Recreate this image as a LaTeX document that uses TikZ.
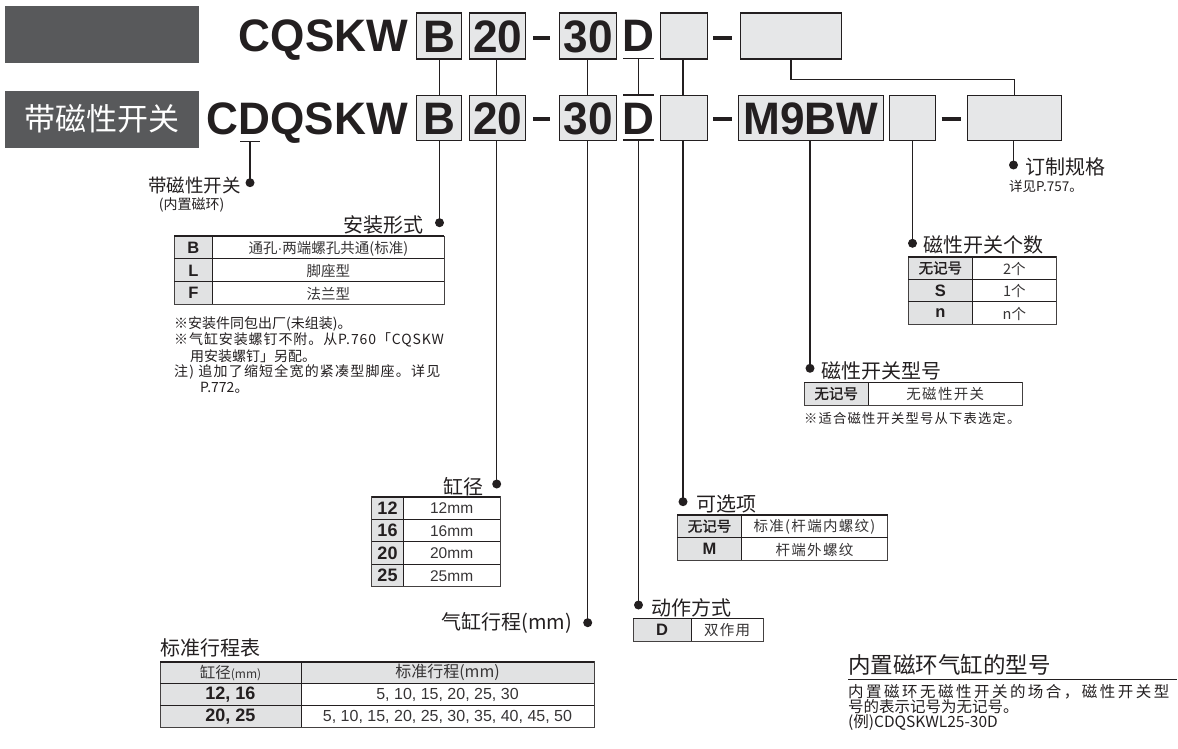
\documentclass[tikz,border=0pt]{standalone}
\usepackage{fontspec}
\setmainfont{Noto Sans CJK SC}
\newfontfamily\lat{Liberation Sans}
\newfontfamily\codef{Liberation Sans}[FakeStretch=0.97]
\newfontfamily\cjkM{Noto Sans CJK SC}[FakeBold=1.5]
\newfontfamily\cjkA{Noto Sans CJK SC}[LetterSpace=16]
\newfontfamily\cjkB{Noto Sans CJK SC}[LetterSpace=9]
\newfontfamily\cjkE{Noto Sans CJK SC}[LetterSpace=6.5]
\newfontfamily\cjkC{Noto Sans CJK SC}[LetterSpace=8.5]
\definecolor{ink}{HTML}{231F20}
\definecolor{txt}{HTML}{363435}
\definecolor{dbox}{HTML}{58595B}
\definecolor{boxg}{HTML}{E6E7E8}
\definecolor{cellg}{HTML}{E1E2E3}
\newcommand\fs[1]{\fontsize{#1}{#1}\selectfont}
\newcommand\tframe[5]{%
  \fill[cellg] (#1,#4) rectangle (#2,#5);
  \draw[tgrid] (#2,#4) -- (#2,#5);
  \draw[tout] (#1,#4) rectangle (#3,#5);
  \draw[ttop] (#1,#4) -- (#3,#4);}
\begin{document}
\begin{tikzpicture}[x=1pt,y=-1pt,
  conn/.style={draw=ink,line width=1.4pt},
  dotn/.style={circle,fill=ink,inner sep=0pt,minimum size=9pt},
  darkbox/.style={fill=dbox,inner sep=0pt,anchor=north west,minimum width=194pt,minimum height=57pt},
  cbox/.style={draw=ink,fill=boxg,line width=1.2pt,inner sep=0pt,anchor=north west,font=\codef\bfseries\fs{45.5},text=ink,text height=32.6pt,text depth=0pt},
  codet/.style={font=\codef\bfseries\fs{45.5},text=ink,inner sep=0pt},
  head/.style={font=\fs{20},text=ink,inner sep=0pt},
  note/.style={font=\fs{14},text=ink,inner sep=0pt,anchor=west},
  cell/.style={font=\fs{14.5},text=txt,inner sep=0pt},
  lcell/.style={font=\lat\fs{15.5},text=txt,inner sep=0pt},
  key/.style={font=\lat\bfseries\fs{16.5},text=ink,inner sep=0pt},
  ckey/.style={font=\cjkM\fs{14.5},text=ink,inner sep=0pt},
  tgrid/.style={draw=ink,line width=0.7pt},
  tout/.style={draw=ink!85,line width=1pt},
  ttop/.style={draw=ink,line width=1.6pt},
  hyph/.style={draw=ink,line width=3.4pt}]
\useasboundingbox (0,0) rectangle (1178,749);

% ---------- header boxes ----------
\node[darkbox] (dk1) at (4.6,6) {};
\node[darkbox] (dk2) at (4.6,90.5) {};
\node[font=\fs{31},text=white,inner sep=0pt] (dk2t) at (dk2.center) {带磁性开关};

% ---------- top row ----------
\node[codet,anchor=base east] (tC) at (408.3,52) {CQSKW};
\node[cbox,minimum width=45pt,minimum height=46pt] (tB) at (416,12.5) {B};
\node[cbox,minimum width=56pt,minimum height=46pt] (t20) at (469,12.5) {20};
\node[cbox,minimum width=57pt,minimum height=46pt] (t30) at (559,12.5) {30};
\node[codet,anchor=base] (tD) at (638.5,52) {D};
\node[cbox,minimum width=47pt,minimum height=46pt] (tE1) at (660,12.5) {};
\node[cbox,minimum width=101pt,minimum height=46pt] (tBig) at (740,12.5) {};
\draw[hyph] (533,38) -- (550,38);
\draw[hyph] (713,38) -- (732,38);
\draw[line width=1.3pt,ink] (623,58.5) -- (654,58.5);

% ---------- bottom row ----------
\node[codet,anchor=base west] (bC) at (206.7,134.3) {CDQSKW};
\node[cbox,minimum width=45pt,minimum height=45pt] (bB) at (416,95) {B};
\node[cbox,minimum width=56pt,minimum height=45pt] (b20) at (469,95) {20};
\node[cbox,minimum width=57pt,minimum height=45pt] (b30) at (559,95) {30};
\node[codet,anchor=base] (bD) at (638.5,134.3) {D};
\node[cbox,minimum width=47pt,minimum height=45pt] (bE1) at (660,95) {};
\node[cbox,minimum width=145pt,minimum height=45pt] (bM) at (738,95) {M9BW};
\node[cbox,minimum width=46pt,minimum height=45pt] (bE2) at (889,95) {};
\node[cbox,minimum width=93.5pt,minimum height=45pt] (bR) at (967,95) {};
\draw[hyph] (533,119) -- (550,119);
\draw[hyph] (713,119) -- (732,119);
\draw[hyph] (941.5,119) -- (960.6,119);
\draw[line width=1.3pt,ink] (623,95) -- (654,95);
\draw[line width=1.3pt,ink] (623,140) -- (654,140);
\draw[line width=1.3pt,ink] (240,141.5) -- (260,141.5);

% ---------- dots ----------
\coordinate (dMag) at (250,182.7);
\coordinate (dB) at (439.5,222.7);
\coordinate (d20) at (496.7,484);
\coordinate (d30) at (587.7,622.7);
\coordinate (dD) at (638.5,605);
\coordinate (dOpt) at (683,501.7);
\coordinate (dSw) at (810,368.3);
\coordinate (dN) at (912.5,243.3);
\coordinate (dCu) at (1013.5,165);
\coordinate (tDu) at (638.5,58.5);
\coordinate (bDo) at (638.5,95);
\coordinate (bDu) at (638.5,140);
\coordinate (magT) at (250,141.5);

% ---------- connectors between rows ----------
\draw[conn] (tB.south -| dB) -- (bB.north -| dB);
\draw[conn] (t20.south -| d20) -- (b20.north -| d20);
\draw[conn] (t30.south -| d30) -- (b30.north -| d30);
\draw[conn] (tDu) -- (bDo);
\draw[conn] (tE1.south -| dOpt) -- (bE1.north -| dOpt);
\draw[conn] (tBig.south) -- ++(0,19.6) -| (bR.north);

% ---------- connectors down to labels ----------
\draw[conn] (magT) -- (dMag);
\draw[conn] (bB.south -| dB) -- (dB);
\draw[conn] (b20.south -| d20) -- (d20);
\draw[conn] (b30.south -| d30) -- (d30);
\draw[conn] (bDu) -- (dD);
\draw[conn] (bE1.south -| dOpt) -- (dOpt);
\draw[conn] (bM.south -| dSw) -- (dSw);
\draw[conn] (bE2.south -| dN) -- (dN);
\draw[conn] (bR.south -| dCu) -- (dCu);

\foreach \p/\n in {dMag/nMag,dB/nB,d20/n20,d30/n30,dD/nD,dOpt/nOpt,dSw/nSw,dN/nN,dCu/nCu}
  \node[dotn] (\n) at (\p) {};

% ---------- labels ----------
\node[head,font=\fs{18.5},anchor=east] (lMag) at (241,185) {带磁性开关};
\node[cell,text=ink,font=\fs{14}] (lMag2) at (191.7,205) {(内置磁环)};
\node[head,anchor=east] (lB) at (424,225) {安装形式};
\node[head,anchor=east] (l20) at (484,486.7) {缸径};
\node[head,anchor=east] (l30) at (572,623.3) {气缸行程(mm)};
\node[head,anchor=west] (lD) at (651.7,608.3) {动作方式};
\node[head,anchor=west] (lOpt) at (696.7,504) {可选项};
\node[head,anchor=west] (lSw) at (821.7,370.7) {磁性开关型号};
\node[head,anchor=west] (lN) at (923,245) {磁性开关个数};
\node[head,anchor=west] (lCu) at (1025,166.7) {订制规格};
\node[note,font=\fs{13.5}] (lCu2) at (1009,186) {详见P.757。};

% ---------- table: mounting ----------
\tframe{174}{212.7}{444}{236}{304}
\draw[tgrid] (174,258.7) -- (444,258.7) (174,281.3) -- (444,281.3);
\node[key] (m1a) at (193.35,248) {B};
\node[cell] (m1b) at (328.35,248.5) {通孔{\lat·}两端螺孔共通(标准)};
\node[key] (m2a) at (193.35,270.5) {L};
\node[cell] (m2b) at (328.35,271) {脚座型};
\node[key] (m3a) at (193.35,293) {F};
\node[cell] (m3b) at (328.35,293.5) {法兰型};
\node[note] (n1) at (174,324) {※安装件同包出厂(未组装)。};
\node[note,font=\cjkE\fs{14}] (n2) at (174,340) {※气缸安装螺钉不附。从P.760「CQSKW};
\node[note] (n3) at (190,356) {用安装螺钉」另配。};
\node[note,font=\cjkC\fs{14}] (n4) at (174,372) {注) 追加了缩短全宽的紧凑型脚座。详见};
\node[note] (n5) at (200,388) {P.772。};

% ---------- table: switch count ----------
\tframe{908}{972.7}{1056}{256.7}{324.2}
\draw[tgrid] (908,279.2) -- (1056,279.2) (908,301.7) -- (1056,301.7);
\node[ckey] (c1a) at (940.35,268) {无记号};
\node[cell] (c1b) at (1014.35,268.5) {2个};
\node[key] (c2a) at (940.35,290.5) {S};
\node[cell] (c2b) at (1014.35,291) {1个};
\node[key] (c3a) at (940.35,313) {n};
\node[cell] (c3b) at (1014.35,313.5) {n个};

% ---------- table: switch model ----------
\tframe{804}{868.3}{1022.3}{382.3}{405}
\node[ckey] (s1a) at (836.15,393.6) {无记号};
\node[cell,font=\cjkB\fs{14.5}] (s1b) at (945.3,394.5) {无磁性开关};
\node[note,font=\cjkB\fs{13.3}] (s2) at (804,418.3) {※适合磁性开关型号从下表选定。};

% ---------- table: bore ----------
\tframe{371.7}{403.3}{500}{496.7}{586.7}
\draw[tgrid] (371.7,519.2) -- (500,519.2) (371.7,541.7) -- (500,541.7) (371.7,564.2) -- (500,564.2);
\node[key,font=\lat\bfseries\fs{18}] (g1a) at (387.5,508) {12};
\node[lcell] (g1b) at (451.65,508.5) {12mm};
\node[key,font=\lat\bfseries\fs{18}] (g2a) at (387.5,530.5) {16};
\node[lcell] (g2b) at (451.65,531) {16mm};
\node[key,font=\lat\bfseries\fs{18}] (g3a) at (387.5,553) {20};
\node[lcell] (g3b) at (451.65,553.5) {20mm};
\node[key,font=\lat\bfseries\fs{18}] (g4a) at (387.5,575.5) {25};
\node[lcell] (g4b) at (451.65,576) {25mm};

% ---------- table: options ----------
\tframe{677.3}{741.7}{887.7}{515}{560}
\draw[tgrid] (677.3,537.5) -- (887.7,537.5);
\node[ckey] (o1a) at (709.5,526.2) {无记号};
\node[cell,font=\cjkB\fs{14.5}] (o1b) at (814.5,527) {标准(杆端内螺纹)};
\node[key] (o2a) at (709.5,548.7) {M};
\node[cell,font=\cjkB\fs{14.5}] (o2b) at (814.5,549.5) {杆端外螺纹};

% ---------- table: action ----------
\tframe{633.3}{691}{763.3}{618.3}{641.7}
\node[key] (a1a) at (662.15,630) {D};
\node[cell,font=\cjkB\fs{14.5}] (a1b) at (727.15,630.5) {双作用};

% ---------- standard stroke table ----------
\node[head,anchor=west] (st) at (160,648.3) {标准行程表};
\fill[cellg] (160,661.7) rectangle (594,683.5);
\tframe{160}{301}{594}{661.7}{727}
\draw[tgrid] (160,683.5) -- (594,683.5) (160,705.3) -- (594,705.3);
\node[cell,font=\fs{15.5}] (h1) at (230.5,672.8) {缸径\fs{12}(mm)};
\node[cell,font=\fs{16}] (h2) at (447.5,672.8) {标准行程(mm)};
\node[key,font=\lat\bfseries\fs{18}] (r1a) at (230.5,694.6) {12, 16};
\node[lcell,font=\lat\fs{16}] (r1b) at (447.5,695) {5, 10, 15, 20, 25, 30};
\node[key,font=\lat\bfseries\fs{18}] (r2a) at (230.5,716.4) {20, 25};
\node[lcell,font=\lat\fs{16}] (r2b) at (447.5,716.8) {5, 10, 15, 20, 25, 30, 35, 40, 45, 50};

% ---------- built-in magnet note ----------
\node[head,font=\fs{22.5},anchor=west] (bm) at (848,665) {内置磁环气缸的型号};
\draw[line width=1.8pt,ink] (848,679.5) -- (1177,679.5);
\node[note,font=\cjkA\fs{15.5}] (bm1) at (848,691.5) {内置磁环无磁性开关的场合，磁性开关型};
\node[note,font=\fs{15.5}] (bm2) at (848,707) {号的表示记号为无记号。};
\node[note,font=\fs{15.5}] (bm3) at (848,722.5) {(例)CDQSKWL25-30D};
\end{tikzpicture}
\end{document}
